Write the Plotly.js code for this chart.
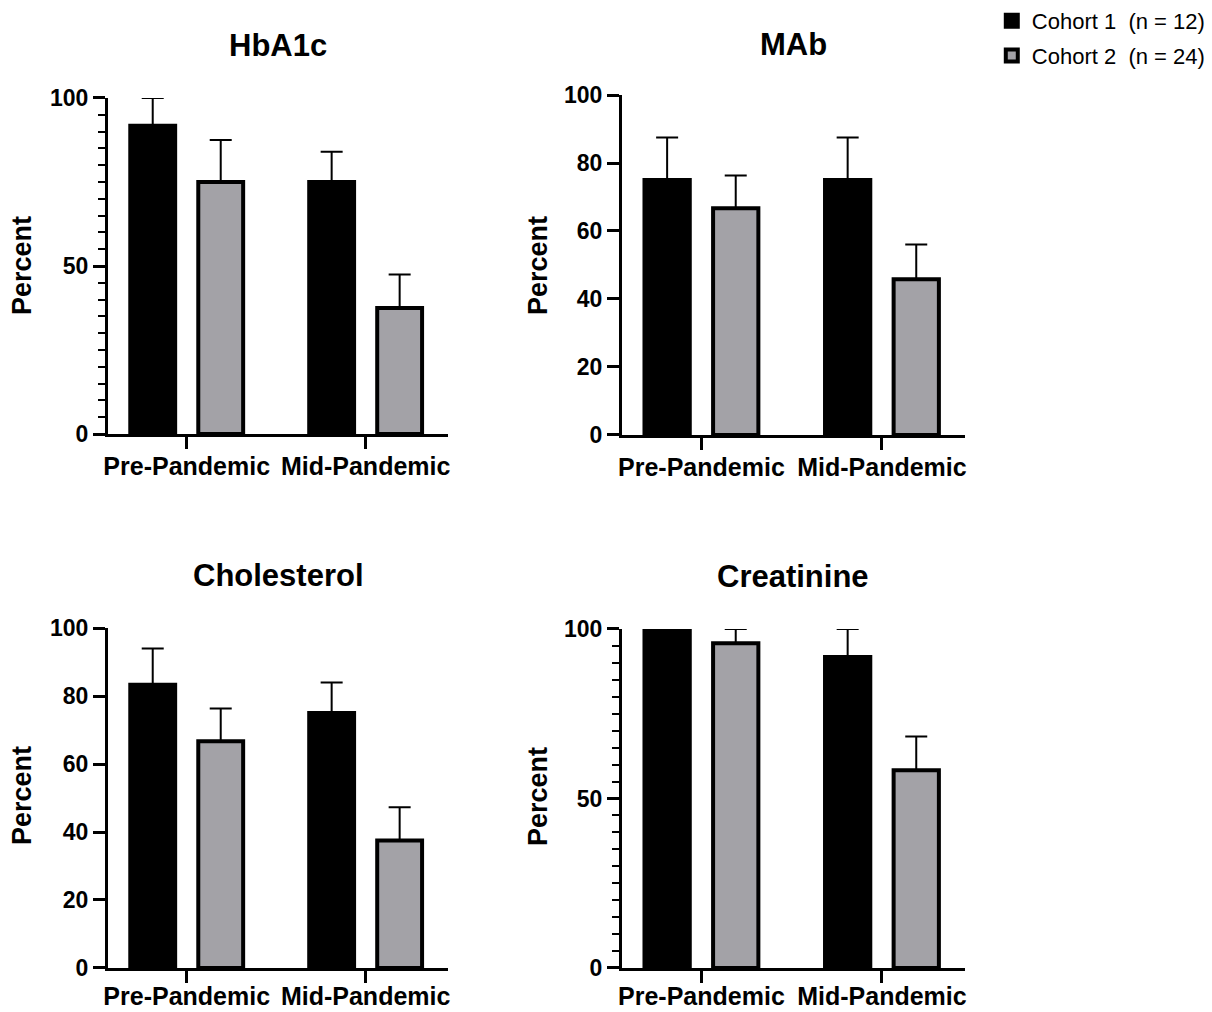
<!DOCTYPE html>
<html>
<head>
<meta charset="utf-8">
<script src="https://cdn.plot.ly/plotly-3.0.1.min.js"></script>
<style>html,body{margin:0;padding:0;background:#fff;}#chart{width:1212px;height:1012px;}</style>
</head>
<body>
<div id="chart"></div>
<script>
// ---- data ----
var categories = ['Pre-Pandemic', 'Mid-Pandemic'];
var seriesNames = ['Cohort 1\u00a0\u00a0(n = 12)', 'Cohort 2\u00a0\u00a0(n = 24)'];
var panelTitles = ['HbA1c', 'MAb', 'Cholesterol', 'Creatinine'];

var hba1cCohort1 = [91.7, 75.0];
var hba1cCohort1Err = [8.3, 9.0];
var hba1cCohort2 = [75.0, 37.5];
var hba1cCohort2Err = [12.5, 10.0];

var mabCohort1 = [75.0, 75.0];
var mabCohort1Err = [12.5, 12.5];
var mabCohort2 = [66.7, 45.8];
var mabCohort2Err = [9.6, 10.2];

var cholCohort1 = [83.3, 75.0];
var cholCohort1Err = [10.7, 9.0];
var cholCohort2 = [66.7, 37.5];
var cholCohort2Err = [9.6, 9.8];

var creatCohort1 = [100.0, 91.7];
var creatCohort1Err = [0.0, 8.3];
var creatCohort2 = [95.8, 58.3];
var creatCohort2Err = [4.2, 10.0];

var yTickStep = [50, 20, 20, 50];
var yMinorStep = [5, null, null, 5];

// ---- styling ----
var FONT = 'Liberation Sans, Arial, Helvetica, sans-serif';
var colors = ['#000000', '#a3a2a7'];

var panels = [
  [hba1cCohort1, hba1cCohort1Err, hba1cCohort2, hba1cCohort2Err],
  [mabCohort1, mabCohort1Err, mabCohort2, mabCohort2Err],
  [cholCohort1, cholCohort1Err, cholCohort2, cholCohort2Err],
  [creatCohort1, creatCohort1Err, creatCohort2, creatCohort2Err]
];

var data = [];
panels.forEach(function (p, i) {
  var ax = i === 0 ? '' : String(i + 1);
  for (var s = 0; s < 2; s++) {
    data.push({
      type: 'bar',
      x: categories,
      y: p[s * 2],
      name: seriesNames[s],
      legendgroup: 'g' + s,
      showlegend: i === 0,
      xaxis: 'x' + ax,
      yaxis: 'y' + ax,
      marker: { color: colors[s], line: { color: '#000', width: 4 } },
      error_y: {
        type: 'data', symmetric: false,
        array: p[s * 2 + 1],
        arrayminus: p[s * 2 + 1].map(function () { return 0; }),
        color: '#000', thickness: 2, width: 11
      },
      hoverinfo: 'x+y+name'
    });
  }
});

var xDomains = [[0.0891, 0.3696], [0.5132, 0.7962], [0.0891, 0.3696], [0.5132, 0.7962]];
var yDomains = [[0.5711, 0.9032], [0.5702, 0.9061], [0.0435, 0.3794], [0.0435, 0.3785]];
var xLabelStandoff = [-4, -4, -8, -8];

var layout = {
  width: 1212, height: 1012,
  margin: { l: 0, r: 0, t: 0, b: 0 },
  paper_bgcolor: '#fff', plot_bgcolor: '#fff',
  barmode: 'group', bargap: 0.24, bargroupgap: 0.34,
  showlegend: true,
  legend: {
    x: 0.999, xanchor: 'right', y: 1.0, yanchor: 'top',
    font: { family: FONT, size: 22, color: '#000' },
    tracegroupgap: 3, itemwidth: 30,
    bgcolor: 'rgba(0,0,0,0)'
  },
  annotations: [],
  font: { family: FONT, color: '#000' }
};

var titlePos = [[0.2294, 0.9555], [0.6547, 0.9565], [0.2294, 0.4318], [0.6547, 0.4308]];
var percentPos = [[22, 0.7372], [538, 0.7372], [22, 0.2134], [538, 0.2124]];

for (var i = 0; i < 4; i++) {
  var ax = i === 0 ? '' : String(i + 1);
  layout['xaxis' + ax] = {
    domain: xDomains[i], anchor: 'y' + ax,
    type: 'category', range: [-0.44, 1.46],
    showline: true, linecolor: '#000', linewidth: 3,
    ticks: 'outside', ticklen: 12, tickwidth: 3, tickcolor: '#000',
    ticklabelstandoff: xLabelStandoff[i],
    tickfont: { family: FONT, size: 25, color: '#000', weight: 'bold' },
    showgrid: false, zeroline: false, fixedrange: true, automargin: false
  };
  var ya = {
    domain: yDomains[i], anchor: 'x' + ax,
    range: [0, 100], tick0: 0, dtick: yTickStep[i],
    showline: true, linecolor: '#000', linewidth: 3,
    ticks: 'outside', ticklen: 12, tickwidth: 3, tickcolor: '#000',
    tickfont: { family: FONT, size: 23, color: '#000', weight: 'bold' },
    showgrid: false, zeroline: false, fixedrange: true, automargin: false
  };
  if (yMinorStep[i]) {
    ya.minor = { dtick: yMinorStep[i], ticks: 'outside', ticklen: 7, tickwidth: 2, tickcolor: '#000', showgrid: false };
  }
  layout['yaxis' + ax] = ya;

  layout.annotations.push({
    text: panelTitles[i], xref: 'paper', yref: 'paper',
    x: titlePos[i][0], y: titlePos[i][1], xanchor: 'center', yanchor: 'middle',
    showarrow: false, font: { family: FONT, size: 31, color: '#000', weight: 'bold' }
  });
  layout.annotations.push({
    text: 'Percent', xref: 'paper', yref: 'paper', textangle: -90,
    x: percentPos[i][0] / 1212, y: percentPos[i][1], xanchor: 'center', yanchor: 'middle',
    showarrow: false, font: { family: FONT, size: 27, color: '#000', weight: 'bold' }
  });
}

Plotly.newPlot('chart', data, layout, { displayModeBar: false, staticPlot: true });
</script>
</body>
</html>
